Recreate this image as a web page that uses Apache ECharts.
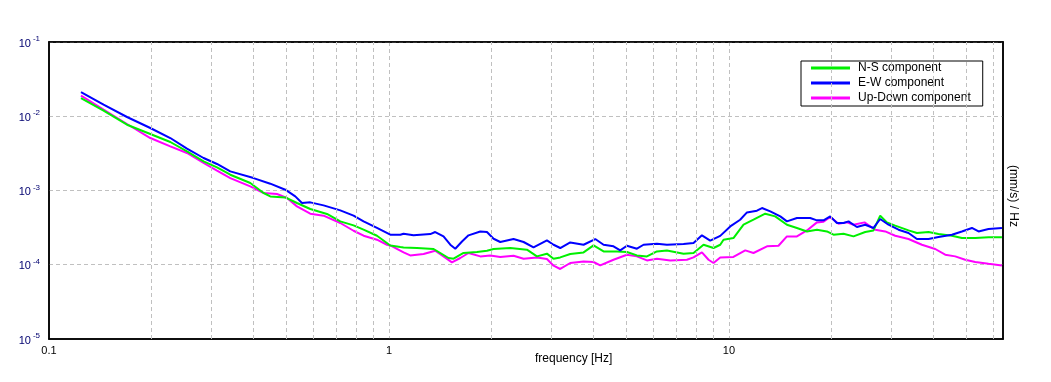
<!DOCTYPE html>
<html>
<head>
<meta charset="utf-8">
<script src="https://cdn.jsdelivr.net/npm/echarts@6/dist/echarts.min.js"></script>
<style>
html,body{margin:0;padding:0;background:#fff;}
#chart{width:1051px;height:382px;}
</style>
</head>
<body>
<div id="chart"></div>
<script>
// ---- data (frequency in Hz, spectral amplitude in (mm/s)/Hz) ----
const nsFreq = [0.1242,0.1447,0.1696,0.1986,0.2274,0.2546,0.2849,0.312,0.3414,0.3909,0.4278,0.4476,0.4955,0.5363,0.5868,0.6571,0.7192,0.7868,0.842,0.922,1.009,1.08,1.104,1.209,1.353,1.416,1.497,1.549,1.657,1.815,1.942,2.031,2.274,2.546,2.724,2.915,3.049,3.19,3.414,3.736,3.997,4.278,4.684,5.012,5.363,5.739,6.141,6.571,7.354,7.868,8.42,9.01,9.428,9.641,10.31,11.04,11.81,12.79,13.68,14.81,15.85,16.96,18.15,19.42,20.31,21.73,23.25,25.17,26.62,27.86,29.15,30.84,33.75,35.73,38.65,41.35,45.28,48.45,53.03,58.01,63.54];
const nsVal = [0.0176,0.01188,0.00769,0.00577,0.0045,0.00336,0.00247,0.00205,0.00163,0.00126,0.000925,0.000833,0.000807,0.000679,0.000563,0.000483,0.000384,0.000339,0.0002965,0.000246,0.000182,0.0001734,0.0001713,0.000168,0.000163,0.000144,0.0001233,0.0001206,0.000144,0.0001485,0.0001546,0.000163,0.000168,0.0001595,0.0001296,0.000141,0.0001206,0.0001256,0.0001396,0.0001466,0.0001822,0.0001512,0.0001512,0.0001485,0.0001336,0.0001296,0.0001512,0.000156,0.000141,0.000144,0.000186,0.000168,0.000186,0.0002175,0.000229,0.000346,0.000404,0.000487,0.000448,0.000346,0.000313,0.000281,0.0002965,0.000281,0.000254,0.000262,0.000241,0.000276,0.00029,0.000458,0.000372,0.000336,0.00029,0.000268,0.000276,0.000259,0.000246,0.000229,0.000229,0.000234,0.000234];

const ewFreq = [0.1242,0.1447,0.1696,0.1986,0.2274,0.2546,0.2849,0.312,0.3414,0.3997,0.4476,0.4955,0.5302,0.5548,0.5868,0.6422,0.7192,0.7868,0.842,0.922,1.009,1.08,1.104,1.181,1.323,1.368,1.447,1.515,1.567,1.64,1.714,1.856,1.942,2.031,2.125,2.325,2.489,2.662,2.915,3.049,3.19,3.414,3.736,4.044,4.278,4.576,4.789,5.012,5.363,5.609,6.141,6.571,7.354,7.868,8.329,8.81,9.428,10.09,10.79,11.3,12.09,12.51,13.23,14.16,14.81,15.85,17.34,18.15,18.98,19.86,20.78,21.73,22.48,23.79,25.17,26.62,27.86,29.47,31.54,33.75,35.73,38.65,41.35,45.28,48.45,51.85,54.23,58.01,63.54];
const ewVal = [0.0212,0.01431,0.00977,0.00695,0.00509,0.00366,0.00274,0.002275,0.00181,0.00147,0.001235,0.001025,0.000833,0.000679,0.000692,0.00063,0.00054,0.000458,0.000384,0.000313,0.000254,0.000254,0.000262,0.000249,0.000259,0.000276,0.000241,0.000186,0.0001645,0.000206,0.000249,0.000281,0.000276,0.000224,0.0002025,0.000222,0.0002025,0.0001713,0.000213,0.000186,0.000168,0.0002,0.000186,0.000222,0.000186,0.000177,0.000156,0.0001805,0.0001645,0.000186,0.000192,0.000186,0.00019,0.000196,0.000249,0.000211,0.000245,0.000328,0.000404,0.000507,0.000535,0.000581,0.000523,0.000448,0.000384,0.000426,0.000426,0.000396,0.000396,0.000448,0.000365,0.000365,0.000384,0.000322,0.000346,0.000313,0.000413,0.000346,0.0002965,0.000268,0.000222,0.000222,0.000236,0.000254,0.000281,0.000313,0.000281,0.000303,0.000313];

const udFreq = [0.1242,0.1447,0.1696,0.1986,0.2274,0.2546,0.2849,0.312,0.3414,0.3909,0.4278,0.4684,0.5012,0.5363,0.5868,0.6422,0.7192,0.7868,0.842,0.922,0.9865,1.009,1.104,1.155,1.264,1.368,1.447,1.532,1.621,1.714,1.856,1.986,2.125,2.325,2.489,2.724,2.915,3.049,3.19,3.414,3.736,3.997,4.183,4.576,5.012,5.363,5.739,6.141,6.721,7.525,7.868,8.329,8.71,9.01,9.428,10.31,11.17,11.81,12.94,13.99,14.81,15.85,16.96,18.15,18.98,19.86,21.01,22.24,23.25,25.05,26.93,28.83,30.84,33.75,36.95,40.44,43.27,46.3,49.55,53.03,58.01,63.54];
const udVal = [0.0189,0.01225,0.00786,0.00509,0.003925,0.0032,0.002346,0.00185,0.00147,0.001136,0.000925,0.000897,0.000793,0.000611,0.000487,0.000458,0.000365,0.000287,0.000246,0.0002175,0.000186,0.000182,0.0001466,0.0001336,0.0001396,0.0001546,0.0001296,0.0001075,0.0001233,0.000144,0.0001296,0.0001336,0.0001272,0.0001324,0.0001206,0.0001256,0.0001195,0.0000971,0.0000877,0.0001056,0.0001109,0.0001089,0.000098,0.0001169,0.0001366,0.0001296,0.0001144,0.0001206,0.0001144,0.0001169,0.0001256,0.0001466,0.0001169,0.0001056,0.000125,0.0001272,0.000156,0.000144,0.000177,0.0001805,0.000241,0.000241,0.00029,0.000372,0.00038,0.00044,0.000357,0.000372,0.000346,0.000372,0.0002965,0.000281,0.000246,0.000222,0.000186,0.000163,0.0001366,0.0001296,0.0001169,0.0001089,0.0001033,0.000098];

const seriesNames = ['N-S component', 'E-W component', 'Up-Down component'];
const minorGridX = [0.2,0.3,0.4,0.5,0.6,0.7,0.8,0.9,2,3,4,5,6,7,8,9,20,30,40,50,60];
const xMin = 0.1, xMax = 64;
const yMin = 1e-5, yMax = 1e-1;

function zip(a, b) { return a.map((v, i) => [v, b[i]]); }

const gridLineStyle = { color: '#c0c0c0', type: [4, 3], width: 1 };
const lineIcon = 'path://M0,0 L39,0 L39,3 L0,3 Z';

const chart = echarts.init(document.getElementById('chart'), null, { renderer: 'canvas' });
chart.setOption({
  animation: false,
  backgroundColor: '#ffffff',
  textStyle: { fontFamily: 'Liberation Sans, Arial, sans-serif' },
  grid: { left: 49, right: 48, top: 42, bottom: 43, show: true, borderColor: '#000', borderWidth: 1.5, backgroundColor: '#fff' },
  legend: {
    data: seriesNames.map(n => ({ name: n, icon: lineIcon })),
    orient: 'vertical',
    left: 801, top: 61,
    backgroundColor: '#fff',
    borderColor: '#000', borderWidth: 1, borderRadius: 0,
    padding: [1, 12, 2, 10],
    itemWidth: 39, itemHeight: 12, itemGap: 3,
    symbolKeepAspect: true,
    textStyle: { fontSize: 12, color: '#000', fontFamily: 'Liberation Sans, Arial, sans-serif', padding: [0, 0, 0, 3] }
  },
  xAxis: [{
    type: 'log', logBase: 10, min: xMin, max: xMax,
    axisLine: { show: true, lineStyle: { color: '#000', width: 1.5 } },
    axisTick: { show: false },
    axisLabel: {
      color: '#000', fontSize: 11, margin: 6,
      formatter: function (v) {
        const e = Math.log10(v);
        if (Math.abs(e - Math.round(e)) > 1e-6) return '';
        return String(Number(v.toPrecision(3)));
      }
    },
    splitLine: { show: true, showMinLine: false, showMaxLine: false, lineStyle: gridLineStyle }
  }, {
    type: 'log', logBase: 10, min: xMin, max: xMax, position: 'top',
    axisLine: { show: true, lineStyle: { color: '#000', width: 1.5 } },
    axisTick: { show: false }, axisLabel: { show: false }, splitLine: { show: false }
  }],
  yAxis: [{
    type: 'log', logBase: 10, min: yMin, max: yMax,
    axisLine: { show: true, lineStyle: { color: '#000', width: 1.5 } },
    axisTick: { show: false },
    axisLabel: {
      margin: 9,
      formatter: function (v) {
        const e = Math.round(Math.log10(v));
        return '{b|10}{s|' + e + '}';
      },
      rich: {
        b: { fontSize: 11, color: '#000070', lineHeight: 14, padding: [3, 2, 0, 0] },
        s: { fontSize: 8, color: '#000070', lineHeight: 14, verticalAlign: 'top', padding: [0, 0, 0, 0] }
      }
    },
    splitLine: { show: true, showMinLine: false, showMaxLine: false, lineStyle: gridLineStyle }
  }, {
    type: 'log', logBase: 10, min: yMin, max: yMax, position: 'right',
    axisLine: { show: true, lineStyle: { color: '#000', width: 1.5 } },
    axisTick: { show: false }, axisLabel: { show: false }, splitLine: { show: false }
  }],
  graphic: [
    { type: 'text', left: 535, top: 353, silent: true,
      style: { text: 'frequency [Hz]', fill: '#000', font: '12px "Liberation Sans", Arial, sans-serif' } },
    { type: 'text', x: 1013, y: 196, rotation: -Math.PI / 2, silent: true,
      style: { text: '(mm/s) / Hz', fill: '#000', font: '12px "Liberation Sans", Arial, sans-serif', align: 'center', verticalAlign: 'middle' } }
  ],
  series: [
    { name: 'minor-grid', type: 'line', data: [], silent: true, z: 1,
      markLine: { silent: true, symbol: ['none', 'none'], label: { show: false },
        lineStyle: gridLineStyle, animation: false,
        data: minorGridX.map(v => ({ xAxis: v })) } },
    { name: seriesNames[0], type: 'line', data: zip(nsFreq, nsVal), showSymbol: false, symbol: 'none', z: 3,
      lineStyle: { color: '#00f000', width: 2 }, itemStyle: { color: '#00f000' } },
    { name: seriesNames[1], type: 'line', data: zip(ewFreq, ewVal), showSymbol: false, symbol: 'none', z: 4,
      lineStyle: { color: '#0000ff', width: 2 }, itemStyle: { color: '#0000ff' } },
    { name: seriesNames[2], type: 'line', data: zip(udFreq, udVal), showSymbol: false, symbol: 'none', z: 2,
      lineStyle: { color: '#ff00ff', width: 2 }, itemStyle: { color: '#ff00ff' } }
  ]
});
</script>
</body>
</html>
